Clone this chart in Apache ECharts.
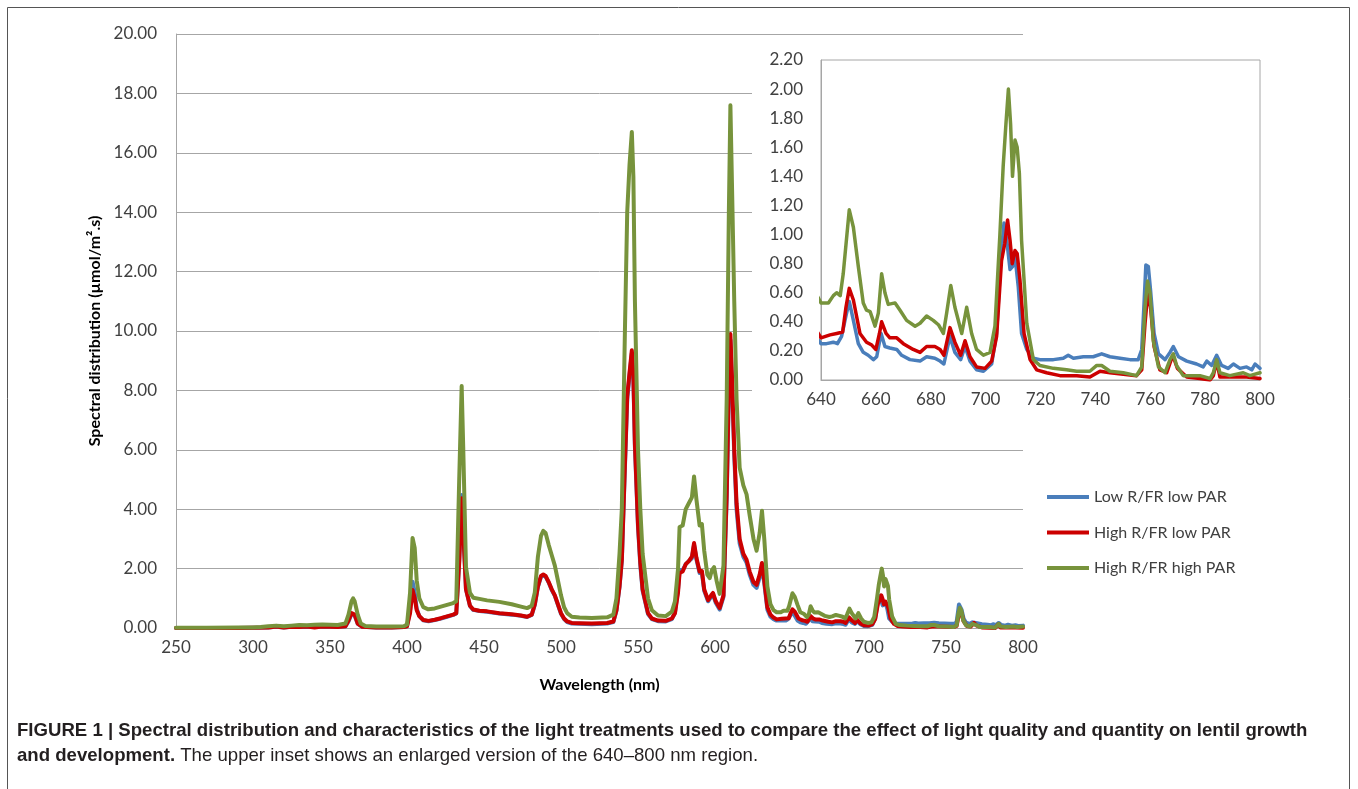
<!DOCTYPE html>
<html>
<head>
<meta charset="utf-8">
<script src="https://cdn.jsdelivr.net/npm/echarts/dist/echarts.min.js"></script>
<style>
html,body{margin:0;padding:0;background:#fff;}
#c{width:1358px;height:789px;}
</style>
</head>
<body>
<div id="c"></div>
<script>
// ---------- DATA ----------
const seriesNames = ['Low R/FR low PAR', 'High R/FR low PAR', 'High R/FR high PAR'];

// Low R/FR low PAR (blue)
const wlLow = [250,290,300,310,315,320,325,330,335,340,345,350,355,360,362,364,365,366,368,371,380,390,398,400,402,403.6,405,406.3,408,410.6,414,418,422,426,430,432,433.9,435.5,436.5,438.3,440.9,443,447,452,460,468,474,478,481,483,485,487,488.5,490,492,494,496,498,500,502,504,507,512,520,530,534,536,538,539.5,541.5,543,544.5,546,547,548,550,551.5,553,556.5,559,563,568,572,574,576,577,579,581,583,585,586.4,588,590,591.5,593,595.5,597.5,598.7,600.5,603,604,605.5,607.6,609,610,611,612.5,614,616,618.4,620.5,622.5,625,627,629,630.5,632,634,636,638,
  640,642,644.5,646,647.5,649.1,650.3,651.8,653.6,655.4,657.2,659.1,660.3,661.9,663.3,665.1,667.6,669.4,672.4,676.1,678.5,681.5,683.4,684.8,687,688.8,690.9,692.5,694.3,696.7,699.2,702.2,704,705.6,706.7,707.7,708.9,709.8,710.7,711.9,713.1,715,717.4,719.8,724.7,728.3,730.1,732,735.6,739.2,742.3,745.3,749,752.6,755.6,756.9,757.8,758.4,759.3,760.1,761.4,763,765.4,767.2,768.4,770.3,773.3,776.9,779.3,780.6,782.4,784.2,786,788.4,790.3,792.7,795.1,797,798.2,800];
const valLow = [0,0,0.01,0.02,0.04,0.02,0.04,0.03,0.04,0.03,0.05,0.04,0.03,0.05,0.22,0.47,0.52,0.42,0.14,0.04,0.02,0.02,0.03,0.06,0.6,1.56,1.2,0.65,0.4,0.26,0.23,0.27,0.32,0.38,0.44,0.49,2.3,4.48,3.4,1.3,0.74,0.61,0.57,0.55,0.49,0.45,0.41,0.37,0.44,0.78,1.38,1.72,1.78,1.73,1.53,1.28,1.08,0.78,0.48,0.3,0.2,0.15,0.14,0.13,0.15,0.2,0.58,1.38,2.25,5.4,7.7,8.5,9.25,8.4,6.1,3.4,2.1,1.25,0.47,0.3,0.23,0.22,0.3,0.52,1.3,1.95,1.95,2.15,2.25,2.35,2.8,2.3,1.85,1.85,1.25,0.9,1.05,1.12,0.85,0.62,0.66,1.05,4.4,8.0,9.7,8.3,5.8,4.0,2.85,2.4,2.2,1.8,1.45,1.35,1.7,2.1,1.5,0.62,0.38,0.3,
  0.25,0.25,0.26,0.25,0.3,0.44,0.54,0.41,0.25,0.19,0.17,0.14,0.16,0.32,0.23,0.22,0.21,0.17,0.14,0.13,0.16,0.15,0.13,0.11,0.3,0.19,0.14,0.23,0.13,0.07,0.06,0.11,0.32,0.85,1.08,0.96,0.76,0.78,0.85,0.64,0.32,0.21,0.15,0.14,0.14,0.15,0.17,0.15,0.16,0.16,0.18,0.16,0.15,0.14,0.14,0.21,0.55,0.79,0.78,0.62,0.32,0.18,0.14,0.19,0.23,0.16,0.13,0.11,0.09,0.13,0.1,0.17,0.1,0.08,0.11,0.08,0.09,0.07,0.11,0.08];

// High R/FR low PAR (red)
const wlHighLow = [250,290,300,310,315,320,325,330,335,340,345,350,355,360,362,364,365,366,368,371,380,390,398,400,402,403.6,405,406.3,408,410.6,414,418,422,426,430,432,433.9,435.5,436.5,438.3,440.9,443,447,452,460,468,474,478,481,483,485,487,488.5,490,492,494,496,498,500,502,504,507,512,520,530,534,536,538,539.5,541.5,543,544.5,546,547,548,550,551.5,553,556.5,559,563,568,572,574,576,577,579,581,583,585,586.4,588,590,591.5,593,595.5,597.5,598.7,600.5,603,604,605.5,607.6,609,610,611,612.5,614,616,618.4,620.5,622.5,625,627,629,630.5,632,634,636,638,
  640,643.3,645.7,647.9,649.1,650.3,651.8,654.2,656.6,658.5,660,661.3,662.1,663.7,665.1,667.6,670,673.6,676.1,678.5,681.5,683.4,684.8,687,688.8,690.9,692.5,694.3,696.7,699.8,702.2,704,705.8,707,708,708.9,709.7,710.7,711.5,712.5,714,716.2,718.6,722.2,727.1,733.2,738,741.7,745.3,750.2,755,756.9,758.1,759.1,760.1,761.4,763.5,766,768.2,769.9,773.3,778.1,781.8,783,784.2,785.4,790.3,795.1,800];
const valHighLow = [0,0,0.01,0.02,0.05,0.02,0.04,0.03,0.05,0.02,0.05,0.04,0.03,0.06,0.25,0.5,0.55,0.45,0.15,0.04,0.02,0.02,0.03,0.06,0.5,1.28,1.0,0.6,0.4,0.27,0.24,0.28,0.33,0.39,0.45,0.5,2.2,4.37,3.3,1.3,0.75,0.62,0.58,0.56,0.5,0.46,0.42,0.38,0.45,0.8,1.4,1.75,1.8,1.75,1.55,1.3,1.1,0.8,0.5,0.32,0.22,0.17,0.16,0.15,0.17,0.22,0.6,1.4,2.3,5.5,7.8,8.6,9.35,8.5,6.2,3.5,2.2,1.3,0.5,0.32,0.25,0.24,0.32,0.5,1.2,1.85,1.9,2.15,2.25,2.4,2.86,2.35,1.9,1.92,1.3,0.94,1.1,1.18,0.9,0.67,0.7,1.1,4.5,8.2,9.9,8.5,6.0,4.2,3.0,2.5,2.3,1.9,1.55,1.45,1.8,2.19,1.6,0.7,0.45,0.35,
  0.29,0.31,0.32,0.33,0.5,0.63,0.55,0.32,0.26,0.24,0.21,0.32,0.4,0.32,0.29,0.29,0.25,0.21,0.19,0.23,0.23,0.21,0.17,0.36,0.26,0.17,0.27,0.16,0.09,0.08,0.13,0.3,0.82,0.94,1.1,0.96,0.8,0.89,0.87,0.69,0.32,0.14,0.07,0.05,0.03,0.03,0.02,0.06,0.05,0.04,0.03,0.07,0.39,0.6,0.5,0.23,0.07,0.05,0.17,0.08,0.02,0.01,0.0,0.03,0.13,0.02,0.02,0.02,0.01];

// High R/FR high PAR (green)
const wlHighHigh = [250,270,290,300,305,310,315,320,325,330,335,340,345,350,355,360,362,364,365,366,368,370,373,380,390,398,400,402,403.6,405,406.3,408,410.6,413.8,418,422,426,430,432,433.9,435.5,436.5,438.3,440.9,443,447,452,460,468,474,478,481,483,485,487,488.5,490,492,494,496,498,500,502,504,507,512,520,530,534,536,538,539.5,541.5,543,544.5,546,547,548,550,551.5,553,556.5,559,563,568,572,574,576,577,579,581,583,585,586.4,588,590,591.5,593,595,596.6,598,599.4,601,603,604,605.5,607.6,609,610,611,612.5,614,616,618.4,620.5,622.5,625,627,629,630.5,632,634,636,638,
  640,642.7,644.5,645.7,647,648.1,650.3,651.8,653.6,655.4,656.6,657.9,659.7,660.9,662.1,663.3,664.5,667,668.8,671.2,674.3,676.1,678.5,680.9,682.8,684.6,685.8,687.3,688.8,691.3,693.1,694.9,696.7,699.2,701.6,703.4,705.2,706.4,707.4,708.3,709.1,709.8,710.7,711.5,712.3,713.1,715,717.4,719.8,724.7,729.5,733.2,738,740.5,742.3,745.3,750.2,755,756.9,758.1,759,759.9,761.1,763,765.4,767.2,768.4,769.6,772,778.1,781.8,783,784.2,785.4,789,793.9,796.3,800];
const valHighHigh = [0.01,0.01,0.02,0.02,0.03,0.06,0.08,0.06,0.08,0.1,0.09,0.11,0.12,0.11,0.1,0.15,0.45,0.9,1.0,0.9,0.45,0.15,0.07,0.05,0.05,0.06,0.12,1.2,3.03,2.7,1.6,1.0,0.7,0.63,0.66,0.72,0.78,0.84,0.9,5.0,8.15,6.1,2.05,1.18,1.02,0.98,0.93,0.88,0.8,0.72,0.67,0.75,1.2,2.4,3.1,3.27,3.2,2.8,2.45,2.1,1.6,1.1,0.7,0.5,0.38,0.35,0.34,0.36,0.45,1.0,2.5,4.0,10.0,14.0,15.6,16.7,15.2,11.0,6.0,4.0,2.5,1.0,0.6,0.42,0.4,0.55,0.9,2.0,3.4,3.45,4.0,4.2,4.4,5.1,4.3,3.45,3.5,2.6,1.8,1.68,1.95,2.05,1.6,1.15,1.2,2.1,7.7,14.0,17.6,15.0,11.0,7.7,5.4,4.8,4.5,3.8,3.0,2.6,3.2,3.95,3.0,1.4,0.8,0.6,
  0.53,0.53,0.58,0.6,0.58,0.73,1.17,1.05,0.78,0.53,0.48,0.47,0.37,0.46,0.73,0.6,0.52,0.53,0.48,0.41,0.37,0.39,0.44,0.41,0.38,0.32,0.46,0.65,0.5,0.32,0.5,0.32,0.21,0.17,0.19,0.37,1.0,1.47,1.76,2.0,1.76,1.4,1.65,1.6,1.42,0.96,0.39,0.14,0.1,0.08,0.07,0.06,0.06,0.1,0.1,0.06,0.05,0.03,0.09,0.5,0.68,0.6,0.27,0.09,0.05,0.14,0.18,0.1,0.03,0.03,0.01,0.05,0.14,0.05,0.03,0.05,0.03,0.05];

const mainXTicks = {min: 250, max: 800, interval: 50};
const mainYTicks = {min: 0, max: 20, interval: 2};
const insetXTicks = {min: 640, max: 800, interval: 20};
const insetYTicks = {min: 0, max: 2.2, interval: 0.2};

// ---------- CHART ----------
const pair = (xs, ys) => xs.map((x, i) => [x, ys[i]]);
const seriesData = [pair(wlLow, valLow), pair(wlHighLow, valHighLow), pair(wlHighHigh, valHighHigh)];
const colors = ['#4A7EBB', '#CC0000', '#77933C'];

const FONT = 'Lato';
const labelColor = '#404040';
const gridColor = '#A6A6A6';

const chart = echarts.init(document.getElementById('c'), null, {renderer: 'canvas'});

const series = [];
seriesData.forEach((d, i) => {
  series.push({
    name: seriesNames[i], type: 'line', xAxisIndex: 0, yAxisIndex: 0,
    data: d, showSymbol: false, symbol: 'none', smooth: false, z: 2,
    lineStyle: {color: colors[i], width: 4, join: 'round', cap: 'round'},
    itemStyle: {color: colors[i]}
  });
});
seriesData.forEach((d, i) => {
  series.push({
    name: seriesNames[i], type: 'line', xAxisIndex: 1, yAxisIndex: 1,
    data: d, showSymbol: false, symbol: 'none', smooth: false, clip: true, z: 12,
    lineStyle: {color: colors[i], width: 3.5, join: 'round', cap: 'round'},
    itemStyle: {color: colors[i]}
  });
});

const option = {
  backgroundColor: '#ffffff',
  animation: false,
  textStyle: {fontFamily: FONT},
  grid: [
    {left: 176, top: 34, width: 847, height: 594, containLabel: false, outerBoundsMode: 'none'},
    {left: 821, top: 60, width: 439, height: 320, containLabel: false, outerBoundsMode: 'none',
     show: true, borderColor: gridColor, borderWidth: 1, backgroundColor: '#ffffff', z: 10}
  ],
  xAxis: [
    {type: 'value', gridIndex: 0, min: mainXTicks.min, max: mainXTicks.max, interval: mainXTicks.interval,
     name: 'Wavelength (nm)', nameLocation: 'middle', nameGap: 49,
     nameTextStyle: {fontFamily: FONT, fontWeight: 'bold', fontSize: 16, color: '#000'},
     axisLine: {show: true, lineStyle: {color: gridColor, width: 1}},
     axisTick: {show: false}, splitLine: {show: false},
     axisLabel: {fontFamily: FONT, fontSize: 17, color: labelColor, margin: 11}},
    {type: 'value', gridIndex: 1, min: insetXTicks.min, max: insetXTicks.max, interval: insetXTicks.interval, z: 11,
     axisLine: {show: true, lineStyle: {color: gridColor, width: 1}},
     axisTick: {show: false}, splitLine: {show: false},
     axisLabel: {fontFamily: FONT, fontSize: 17, color: labelColor, margin: 11}}
  ],
  yAxis: [
    {type: 'value', gridIndex: 0, min: mainYTicks.min, max: mainYTicks.max, interval: mainYTicks.interval,
     name: 'Spectral distribution (µmol/m².s)', nameLocation: 'middle', nameGap: 67, nameRotate: 90,
     nameTextStyle: {fontFamily: FONT, fontWeight: 'bold', fontSize: 16, color: '#000'},
     axisLine: {show: true, lineStyle: {color: gridColor, width: 1}},
     axisTick: {show: false},
     splitLine: {show: true, lineStyle: {color: gridColor, width: 1}},
     axisLabel: {fontFamily: FONT, fontSize: 17, color: labelColor, margin: 19, formatter: v => v.toFixed(2)}},
    {type: 'value', gridIndex: 1, min: insetYTicks.min, max: insetYTicks.max, interval: insetYTicks.interval, z: 11,
     axisLine: {show: true, lineStyle: {color: gridColor, width: 1}},
     axisTick: {show: false}, splitLine: {show: false},
     axisLabel: {fontFamily: FONT, fontSize: 17, color: labelColor, margin: 18, formatter: v => v.toFixed(2)}}
  ],
  legend: {
    data: seriesNames, orient: 'vertical', left: 1042, top: 482, itemGap: 15.5,
    icon: 'rect', itemWidth: 42, itemHeight: 4,
    textStyle: {fontFamily: FONT, fontSize: 16, color: labelColor, lineHeight: 20},
    selectedMode: false
  },
  graphic: {
    elements: [
      {type: 'rect', z: 3, silent: true, shape: {x: 752, y: 44, width: 525, height: 376}, style: {fill: '#ffffff', stroke: null}},
      {type: 'rect', z: 20, silent: true, shape: {x: 7.5, y: 7.5, width: 1342, height: 800}, style: {fill: null, stroke: '#555555', lineWidth: 1}},
      {type: 'text', z: 20, left: 17, top: 721, silent: true,
       style: {text: 'FIGURE 1 | Spectral distribution and characteristics of the light treatments used to compare the effect of light quality and quantity on lentil growth',
               fontFamily: 'Liberation Sans', fontWeight: 'bold', fontSize: 18.6, fill: '#231F20'}},
      {type: 'text', z: 20, left: 17, top: 746, silent: true,
       style: {text: '{b|and development.} {n|The upper inset shows an enlarged version of the 640–800 nm region.}',
               fontFamily: 'Liberation Sans', fontSize: 18.6, fill: '#231F20',
               rich: {b: {fontFamily: 'Liberation Sans', fontWeight: 'bold', fontSize: 18.6, fill: '#231F20', color: '#231F20'},
                      n: {fontFamily: 'Liberation Sans', fontWeight: 'normal', fontSize: 18.6, fill: '#231F20', color: '#231F20'}}}}
    ]
  },
  series: series
};
chart.setOption(option);
</script>
</body>
</html>
